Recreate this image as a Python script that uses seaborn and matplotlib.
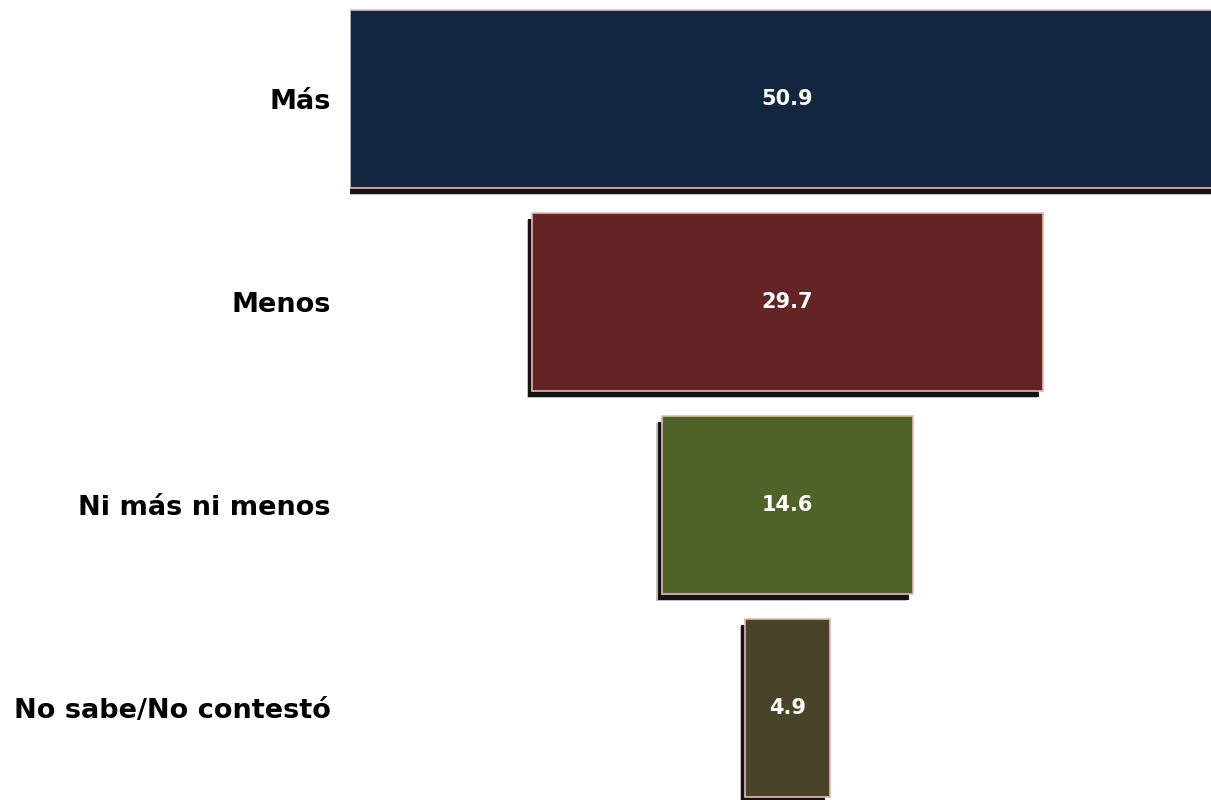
import matplotlib
matplotlib.use("Agg")
import matplotlib.pyplot as plt
import matplotlib.patheffects as pe
import seaborn as sns
import pandas as pd

# Datos del embudo
categorias = ["Más", "Menos", "Ni más ni menos", "No sabe/No contestó"]
valores = [50.9, 29.7, 14.6, 4.9]
colores = ["#12263f", "#632423", "#4f6228", "#494429"]

df = pd.DataFrame({"categoria": categorias, "valor": valores})

sns.set_theme(style="white")
plt.rcParams["font.family"] = ["DejaVu Sans"]

fig = plt.figure(figsize=(12.11, 8), dpi=100)
# la barra mayor sale un poco por la derecha, como en el original
ax = fig.add_axes([350 / 1211, -9.5 / 800, 875 / 1211, 812 / 800])

sns.barplot(data=df, x="valor", y="categoria", hue="categoria", palette=colores,
            saturation=1, legend=False, width=0.877, edgecolor="#e6b9b8",
            linewidth=1.2, ax=ax)

# centrar cada barra para formar el embudo, con sombra abajo a la izquierda
sombra = [pe.SimplePatchShadow(offset=(-4, -5), shadow_rgbFace="black", alpha=0.25),
          pe.SimplePatchShadow(offset=(-3, -4), shadow_rgbFace="black", alpha=0.9),
          pe.Normal()]
for bar, v in zip(ax.patches, valores):
    bar.set_x(-v / 2)
    bar.set_path_effects(sombra)
    ax.text(0, bar.get_y() + bar.get_height() / 2, f"{v:.1f}", ha="center", va="center",
            color="white", fontsize=15, fontweight="bold")

ax.set_xlim(-valores[0] / 2, valores[0] / 2)
ax.set_ylim(3.5, -0.5)
ax.set_xlabel("")
ax.set_ylabel("")
ax.set_xticks([])
ax.tick_params(axis="y", length=0, pad=14, labelsize=19.5, labelcolor="black")
for lbl in ax.get_yticklabels():
    lbl.set_fontweight("bold")
sns.despine(ax=ax, left=True, bottom=True)

fig.savefig("out.png", dpi=100)
